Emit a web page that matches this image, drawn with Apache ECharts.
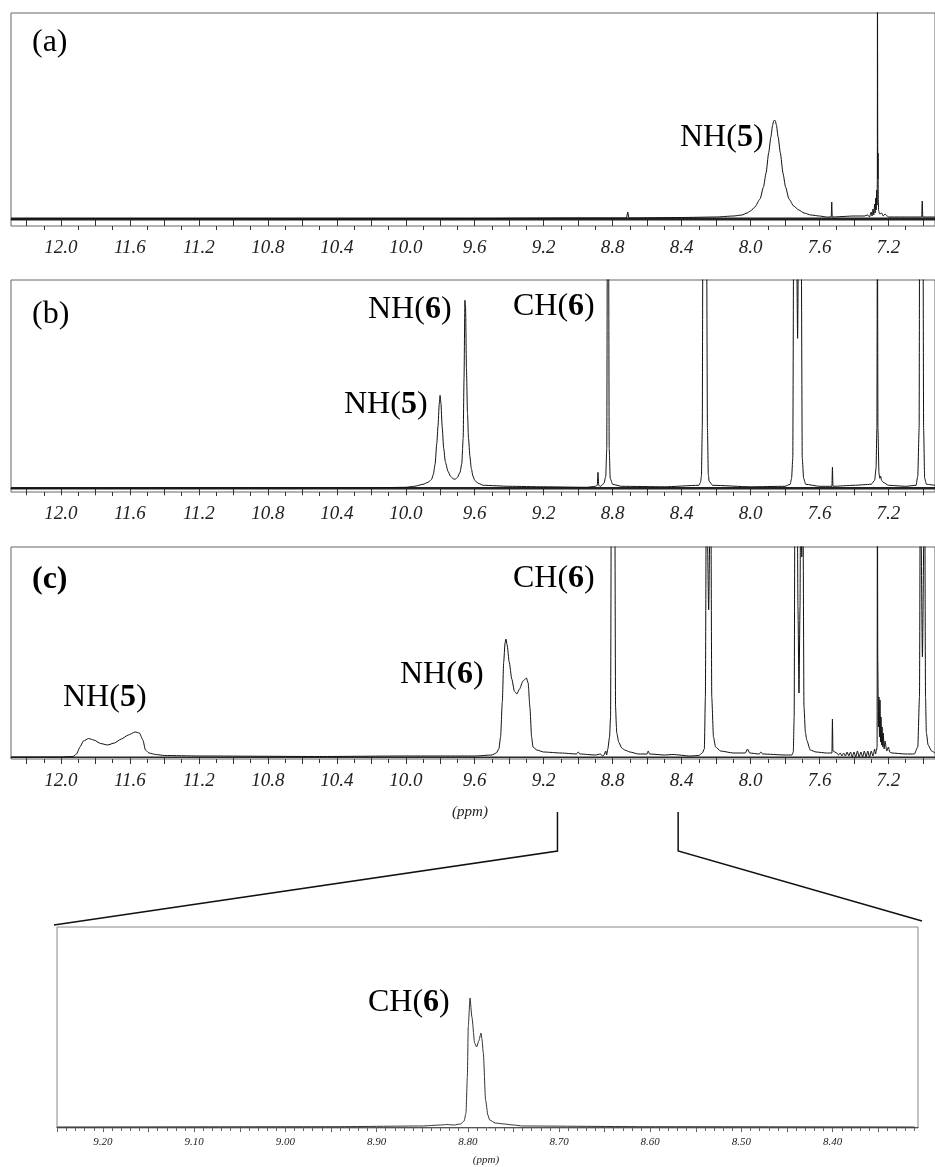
<!DOCTYPE html>
<html>
<head>
<meta charset="utf-8">
<script src="https://cdn.jsdelivr.net/npm/echarts@6/dist/echarts.min.js"></script>
<style>
html,body{margin:0;padding:0;background:#fff;}
#chart{width:935px;height:1167px;}
</style>
</head>
<body>
<div id="chart"></div>
<script>
// ---------------- DATA (ppm, intensity in arbitrary units) ----------------
const spectrumA = [
 [12.29,0],[11.8,0.5],[11.4,0.5],[10.5,0],[9.6,0.5],[9.0,1],[8.72,1],[8.712,7],[8.706,1],
 [8.4,1.5],[8.2,2],[8.1,3],[8.05,4],[8.02,6],[8.0,8],[7.975,12],[7.945,20],[7.925,32],
 [7.91,46],[7.895,66],[7.882,82],[7.872,94],[7.866,98],[7.861,99],[7.856,98],[7.85,94],
 [7.84,82],[7.827,66],[7.812,46],[7.797,32],[7.777,20],[7.75,13],[7.72,9],[7.69,6],[7.65,4],
 [7.6,3],[7.56,2],[7.532,2],[7.529,17],
 [7.526,2],[7.40,3],[7.34,3],[7.32,4],[7.31,2],[7.30,7],[7.295,3],[7.29,10],[7.285,4],[7.28,15],
 [7.277,6],[7.274,21],[7.271,9],[7.268,29],[7.266,14],[7.2645,40],[7.2638,260],[7.2628,260],
 [7.2618,40],[7.2605,66],[7.259,20],[7.257,8],[7.25,5],[7.24,6],[7.23,3],[7.22,5],[7.2,2],
 [7.1,2],[7.007,2],[7.004,18],[7.001,2],[6.93,2]
];
const spectrumB = [
 [12.29,0],[10.2,0.5],[10.0,1],[9.95,2],[9.90,4],[9.87,6],[9.85,9],[9.84,14],[9.83,24],[9.82,45],
 [9.813,62],[9.806,84],[9.801,93],[9.796,85],[9.789,62],[9.78,40],[9.77,26],[9.755,17],[9.74,12],
 [9.725,9.5],[9.713,9],[9.70,11],[9.685,16],[9.675,25],[9.667,50],[9.662,110],[9.657,188],
 [9.653,180],[9.648,120],[9.642,75],[9.636,50],[9.628,32],[9.62,20],[9.61,12],[9.60,8],[9.58,5],
 [9.55,3],[9.4,2],[9.2,1.5],[8.95,1],[8.9,2],[8.889,3],[8.885,16],[8.881,3],[8.87,2],[8.85,5],
 [8.84,12],[8.834,40],[8.830,300],[8.824,300],[8.820,40],[8.814,10],[8.80,4],[8.75,2],[8.5,1.5],
 [8.30,3],[8.29,6],[8.285,12],[8.280,60],[8.276,300],[8.266,300],[8.256,300],[8.250,60],
 [8.245,14],[8.24,7],[8.22,3],[8.0,1.5],[7.80,2],[7.77,4],[7.762,10],[7.755,30],[7.749,300],
 [7.735,300],[7.727,150],[7.72,300],[7.707,300],[7.700,30],[7.692,10],[7.68,4],[7.6,2],
 [7.528,2],[7.525,21],[7.522,2],[7.4,3],[7.3,4],[7.28,8],[7.272,20],[7.267,60],[7.264,300],
 [7.261,60],[7.255,15],[7.25,10],[7.245,12],[7.24,8],[7.23,6],[7.2,3],[7.1,2],[7.04,3],[7.03,12],
 [7.022,60],[7.019,300],[7.0,300],[6.996,60],[6.99,10],[6.98,4],[6.93,3]
];
const spectrumC = [
 [12.29,0],[12.0,0],[11.93,0.5],[11.91,3],[11.89,10],[11.87,16],[11.84,18.5],[11.81,17],
 [11.77,13.5],[11.73,12],[11.69,14],[11.65,18],[11.61,22],[11.57,25],[11.545,24],[11.525,17],
 [11.51,7],[11.49,4],[11.45,2.5],[11.40,1.5],[11.2,1],[10.5,0.5],[10.0,1],[9.6,1],[9.5,2],
 [9.475,4],[9.46,8],[9.45,20],[9.44,55],[9.432,95],[9.424,114],[9.419,118],[9.412,112],
 [9.40,95],[9.385,78],[9.37,66],[9.356,63],[9.34,68],[9.32,76],[9.30,79],[9.29,74],[9.28,50],
 [9.27,20],[9.262,10],[9.24,7],[9.2,5],[9.1,4],[9.01,3],[9.0,5],[8.99,3],[8.9,2],[8.87,3],
 [8.86,1],[8.85,2],[8.84,6],[8.835,2],[8.828,8],[8.818,20],[8.812,40],[8.807,300],[8.788,300],
 [8.783,50],[8.778,30],[8.776,24],[8.765,15],[8.747,9],[8.73,7],[8.70,5],[8.65,3],[8.6,3],
 [8.594,6],[8.585,3],[8.5,2],[8.45,2.5],[8.35,1],[8.30,1.5],[8.28,4],[8.268,8],[8.262,60],
 [8.256,300],[8.243,147],[8.231,300],[8.225,60],[8.215,20],[8.203,10],[8.174,6],[8.1,4],
 [8.03,4],[8.018,8],[8.005,4],[7.95,3],[7.94,5],[7.93,3],[7.8,2],[7.76,2],[7.752,5],[7.747,40],
 [7.742,300],[7.736,220],[7.73,300],[7.725,150],[7.719,64],[7.713,150],[7.709,300],[7.703,200],
 [7.697,300],[7.69,50],[7.682,25],[7.674,17],[7.654,7],[7.62,5],[7.56,4],[7.528,4],[7.525,38],
 [7.522,6],[7.5,4],[7.49,2],[7.48,4],[7.47,1],[7.46,4],[7.45,1],[7.44,5],[7.43,1],[7.42,5],
 [7.41,0],[7.40,5],[7.39,0],[7.38,6],[7.37,0],[7.36,5],[7.35,0],[7.34,6],[7.33,0],[7.32,6],
 [7.31,0],[7.30,6],[7.29,1],[7.28,8],[7.275,3],[7.27,6],[7.266,10],[7.264,300],[7.262,97],
 [7.258,30],[7.255,60],[7.252,20],[7.249,57],[7.246,15],[7.243,40],[7.24,12],[7.237,30],
 [7.233,10],[7.23,24],[7.225,8],[7.22,16],[7.21,6],[7.2,10],[7.193,5],[7.18,4],[7.1,3],[7.05,3],
 [7.03,10],[7.02,60],[7.015,300],[7.003,100],[6.99,300],[6.985,60],[6.98,24],[6.97,12],
 [6.95,6],[6.93,4]
];
const spectrumInset = [
 [9.25,0],[8.95,0.3],[8.85,1],[8.83,2],[8.823,2.5],[8.815,2],[8.808,3],[8.804,6],[8.802,14],
 [8.8005,50],[8.7995,100],[8.7976,129],[8.7955,110],[8.7925,84],[8.7903,80],[8.788,86],
 [8.7855,94],[8.7845,88],[8.783,74],[8.7805,27],[8.778,12],[8.776,7],[8.77,4],[8.76,3],
 [8.75,2],[8.74,1],[8.6,0.3],[8.31,0]
];
const majorTicks = [12.2,12.0,11.8,11.6,11.4,11.2,11.0,10.8,10.6,10.4,10.2,10.0,9.8,9.6,9.4,9.2,9.0,8.8,8.6,8.4,8.2,8.0,7.8,7.6,7.4,7.2,7.0];
const minorTicks = [12.1,11.9,11.7,11.5,11.3,11.1,10.9,10.7,10.5,10.3,10.1,9.9,9.7,9.5,9.3,9.1,8.9,8.7,8.5,8.3,8.1,7.9,7.7,7.5,7.3,7.1];
const tickLabels = [12.0,11.6,11.2,10.8,10.4,10.0,9.6,9.2,8.8,8.4,8.0,7.6,7.2];
const insetTickLabels = [9.2,9.1,9.0,8.9,8.8,8.7,8.6,8.5,8.4];
const insetMajorTicks = [9.25,9.2,9.15,9.1,9.05,9.0,8.95,8.9,8.85,8.8,8.75,8.7,8.65,8.6,8.55,8.5,8.45,8.4,8.35];
const zoomRange = [9.12, 8.42];
const annotations = [
 {text:'(a)', x:32, y:43},
 {pre:'NH(', num:'5', x:680, y:138},
 {text:'(b)', x:32, y:315},
 {pre:'NH(', num:'6', x:368, y:310},
 {pre:'NH(', num:'5', x:344, y:405},
 {pre:'CH(', num:'6', x:513, y:307},
 {text:'(c)', x:32, y:580, bold:true},
 {pre:'NH(', num:'5', x:63, y:698},
 {pre:'NH(', num:'6', x:400, y:675},
 {pre:'CH(', num:'6', x:513, y:579},
 {pre:'CH(', num:'6', x:368, y:1003}
];

// ---------------- LAYOUT ----------------
const SERIF = '"Liberation Serif","Times New Roman",serif';
const mainPanels = [
  {top:13, height:213, ymin:-7, ymax:206, data:spectrumA, band:3.2},
  {top:280, height:212, ymin:-3.7, ymax:208.3, data:spectrumB, band:2.4},
  {top:547, height:212, ymin:-2, ymax:210, data:spectrumC, band:1.0}
];
const insetMinor = [];
for (let v = 925; v >= 831; v--) insetMinor.push(v/100);

const grids = [], xAxes = [], yAxes = [], series = [];
mainPanels.forEach((p, i) => {
  grids.push({left:11, top:p.top, width:926, height:p.height, show:true,
    borderColor:'#666', borderWidth:1, backgroundColor:'transparent'});
  const base = {type:'value', gridIndex:i, position:'bottom', min:6.93, max:12.29, inverse:true, splitLine:{show:false}};
  xAxes.push(Object.assign({}, base, {
    axisLine:{show:true, lineStyle:{color:'#333', width:1}},
    axisTick:{show:true, customValues:majorTicks, length:7, lineStyle:{color:'#333'}},
    axisLabel:{show:true, customValues:tickLabels, margin:12, fontSize:19, fontStyle:'italic',
      fontFamily:SERIF, color:'#222', formatter:v => v.toFixed(1)}
  }));
  xAxes.push(Object.assign({}, base, {
    axisLine:{show:false},
    axisTick:{show:true, customValues:minorTicks, length:4, lineStyle:{color:'#333'}},
    axisLabel:{show:false}
  }));
  yAxes.push({type:'value', gridIndex:i, min:p.ymin, max:p.ymax, show:false});
  series.push({type:'line', xAxisIndex:2*i, yAxisIndex:i, data:[[12.29,0],[6.93,0]],
    showSymbol:false, lineStyle:{color:'#222', width:p.band}, silent:true, z:1});
  series.push({type:'line', xAxisIndex:2*i, yAxisIndex:i, data:p.data, showSymbol:false,
    smooth:0.2, smoothMonotone:'x',
    lineStyle:{color:'#111', width:1}, silent:true, z:2});
});
// inset
grids.push({left:57, top:927, width:861, height:201, show:true, borderColor:'#888',
  borderWidth:1, backgroundColor:'transparent'});
const ibase = {type:'value', gridIndex:3, position:'bottom', min:8.3064, max:9.2504, inverse:true, splitLine:{show:false}};
xAxes.push(Object.assign({}, ibase, {
  axisLine:{show:true, lineStyle:{color:'#555', width:1}},
  axisTick:{show:true, customValues:insetMajorTicks, length:5, lineStyle:{color:'#555'}},
  axisLabel:{show:true, customValues:insetTickLabels, margin:9, fontSize:11, fontStyle:'italic',
    fontFamily:SERIF, color:'#222', formatter:v => v.toFixed(2)}
}));
xAxes.push(Object.assign({}, ibase, {
  axisLine:{show:false},
  axisTick:{show:true, customValues:insetMinor, length:3, lineStyle:{color:'#666'}},
  axisLabel:{show:false}
}));
yAxes.push({type:'value', gridIndex:3, min:-1, max:200, show:false});
series.push({type:'line', xAxisIndex:6, yAxisIndex:3, data:spectrumInset, showSymbol:false,
  smooth:0.2, smoothMonotone:'x',
  lineStyle:{color:'#333', width:1}, silent:true, z:2});

const chart = echarts.init(document.getElementById('chart'), null, {renderer:'canvas'});
chart.setOption({animation:false, backgroundColor:'#fff', grid:grids, xAxis:xAxes, yAxis:yAxes, series:series});

// ---------------- ANNOTATIONS ----------------
const graphics = [];
annotations.forEach(a => {
  let text, rich;
  if (a.text) {
    text = '{n|' + a.text + '}';
    rich = {n:{fontFamily:SERIF, fontSize:32, fill:'#000', fontWeight:a.bold ? 'bold' : 'normal'}};
  } else {
    text = '{n|' + a.pre + '}{b|' + a.num + '}{n|)}';
    rich = {n:{fontFamily:SERIF, fontSize:32, fill:'#000'},
            b:{fontFamily:SERIF, fontSize:32, fill:'#000', fontWeight:'bold'}};
  }
  graphics.push({type:'text', x:a.x, y:a.y, silent:true,
    style:{text:text, rich:rich, align:'left', verticalAlign:'middle'}});
});
graphics.push({type:'text', x:470, y:812, silent:true,
  style:{text:'(ppm)', font:'italic 15px ' + SERIF, fill:'#222', align:'center', verticalAlign:'middle'}});
graphics.push({type:'text', x:486, y:1160, silent:true,
  style:{text:'(ppm)', font:'italic 11px ' + SERIF, fill:'#222', align:'center', verticalAlign:'middle'}});

const xl = chart.convertToPixel({xAxisIndex:4}, zoomRange[0]);
const xr = chart.convertToPixel({xAxisIndex:4}, zoomRange[1]);
graphics.push({type:'polyline', silent:true, shape:{points:[[xl,812],[xl,851],[54,925]]},
  style:{stroke:'#111', lineWidth:1.5, fill:null}});
graphics.push({type:'polyline', silent:true, shape:{points:[[xr,812],[xr,851],[922,921]]},
  style:{stroke:'#111', lineWidth:1.5, fill:null}});
chart.setOption({graphic:graphics});
</script>
</body>
</html>
